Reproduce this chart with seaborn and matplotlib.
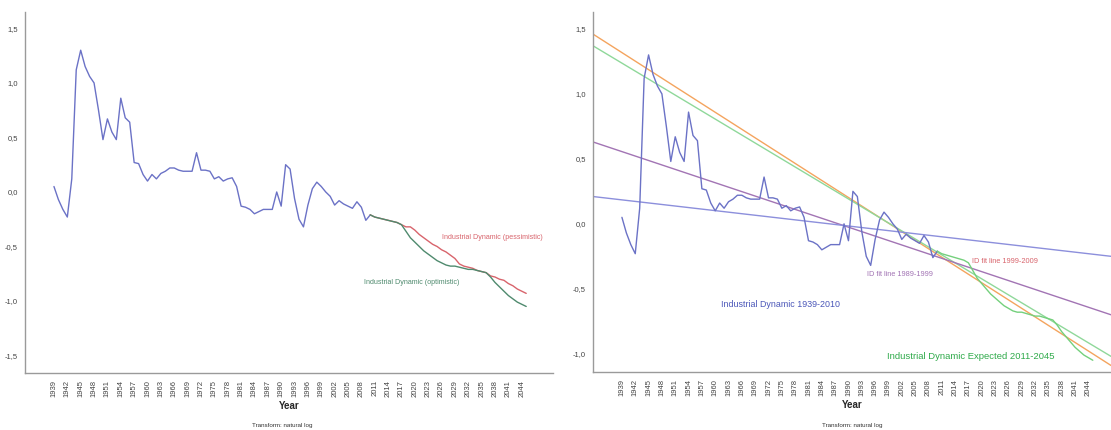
import numpy as np
import pandas as pd
import matplotlib.pyplot as plt
import seaborn as sns

# ---------------------------------------------------------
# data (natural log transform)
# ---------------------------------------------------------
hist_years = list(range(1939, 2011))
hist_values = [
    0.05, -0.07, -0.16, -0.23, 0.12, 1.12, 1.30, 1.15, 1.06, 1.00,   # 1939-1948
    0.75, 0.48, 0.67, 0.55, 0.48, 0.86, 0.68, 0.64, 0.27, 0.26,      # 1949-1958
    0.16, 0.10, 0.16, 0.12, 0.17, 0.19, 0.22, 0.22, 0.20, 0.19,      # 1959-1968
    0.19, 0.19, 0.36, 0.20, 0.20, 0.19, 0.12, 0.14, 0.10, 0.12,      # 1969-1978
    0.13, 0.05, -0.13, -0.14, -0.16, -0.20, -0.18, -0.16, -0.16, -0.16,  # 1979-1988
    0.00, -0.13, 0.25, 0.21, -0.06, -0.25, -0.32, -0.12, 0.03, 0.09,    # 1989-1998
    0.05, 0.00, -0.04, -0.12, -0.08, -0.11, -0.13, -0.15, -0.09, -0.14,  # 1999-2008
    -0.26, -0.21,                                                       # 2009-2010
]

fc_years = list(range(2010, 2046))
pessimistic = [
    -0.21, -0.23, -0.24, -0.25, -0.26, -0.27, -0.28, -0.30, -0.32, -0.32,
    -0.35, -0.39, -0.42, -0.45, -0.48, -0.50, -0.53, -0.55, -0.58, -0.61,
    -0.66, -0.68, -0.69, -0.70, -0.72, -0.73, -0.74, -0.77, -0.78, -0.80,
    -0.81, -0.84, -0.86, -0.89, -0.91, -0.93,
]
optimistic = [
    -0.21, -0.23, -0.24, -0.25, -0.26, -0.27, -0.28, -0.30, -0.36, -0.42,
    -0.46, -0.50, -0.54, -0.57, -0.60, -0.63, -0.65, -0.67, -0.68, -0.68,
    -0.69, -0.70, -0.71, -0.71, -0.72, -0.73, -0.74, -0.78, -0.83, -0.87,
    -0.91, -0.95, -0.98, -1.01, -1.03, -1.05,
]

# straight fit lines on the right panel: value at the left and right axis edge
fit_years = [1932.5, 2049.1]
fit_orange = [1.46, -1.09]
fit_green = [1.37, -1.02]
fit_purple = [0.63, -0.70]
fit_blue = [0.21, -0.25]

tick_years = list(range(1939, 2045, 3))
y_ticks = [-1.5, -1.0, -0.5, 0.0, 0.5, 1.0, 1.5]

# ---------------------------------------------------------
# styling
# ---------------------------------------------------------
sns.set_style("white")
plt.rcParams['font.family'] = ['Liberation Sans', 'DejaVu Sans']

BLUE = '#6b72c6'
RED = '#d8646c'
DGREEN = '#4f8a6e'
LGREEN = '#74d07c'
ORANGE = '#f4a45e'
FGREEN = '#8fd89a'
PURPLE = '#a274b4'
FBLUE = '#8c8fdc'
GREY = '#9a9a9a'

fig = plt.figure(figsize=(11.11, 4.30), dpi=100)
ax1 = fig.add_axes([0.0225, 0.1326, 0.4752, 0.8394])
ax2 = fig.add_axes([0.5338, 0.135, 0.4662, 0.837])


def style_axis(ax, ylim, yticks):
    ax.set_xlim(1932.5, 2051 if ax is ax1 else 2049.1)
    ax.set_ylim(*ylim)
    ax.set_xticks(tick_years)
    ax.set_xticklabels([str(y) for y in tick_years], rotation=90, fontsize=5.5, color='#444444')
    ax.set_yticks(yticks)
    ax.set_yticklabels([f'{v:.1f}'.replace('.', ',') for v in yticks], fontsize=5.5, color='#444444')
    ax.tick_params(axis='both', direction='out', length=3, width=0.8, color='#555555', pad=2)
    for s in ['top', 'right']:
        ax.spines[s].set_visible(False)
    for s in ['left', 'bottom']:
        ax.spines[s].set_color(GREY)
        ax.spines[s].set_linewidth(1.0)
    ax.set_xlabel('Year', fontsize=7, fontweight='bold', labelpad=3)
    ax.set_ylabel('')
    ax.grid(False)


hist = pd.DataFrame({'Year': hist_years, 'Value': hist_values})
fc = pd.DataFrame({'Year': fc_years, 'Pess': pessimistic, 'Opt': optimistic})

# ---- left panel: scenarios ----
sns.lineplot(data=hist, x='Year', y='Value', color=BLUE, linewidth=1.0, ax=ax1)
sns.lineplot(data=fc, x='Year', y='Pess', color=RED, linewidth=1.0, ax=ax1)
sns.lineplot(data=fc, x='Year', y='Opt', color=DGREEN, linewidth=1.0, ax=ax1)
style_axis(ax1, (-1.66, 1.65), y_ticks)
ax1.text(2026.1, -0.42, 'Industrial Dynamic (pessimistic)', color=RED, fontsize=5.1, va='center')
ax1.text(2008.5, -0.83, 'Industrial Dynamic (optimistic)', color=DGREEN, fontsize=5.1, va='center')

# ---- right panel: fit lines ----
for vals, col in [(fit_orange, ORANGE), (fit_green, FGREEN), (fit_purple, PURPLE), (fit_blue, FBLUE)]:
    sns.lineplot(x=fit_years, y=vals, color=col, linewidth=1.0, ax=ax2)
sns.lineplot(data=hist, x='Year', y='Value', color=BLUE, linewidth=1.0, ax=ax2)
sns.lineplot(data=fc, x='Year', y='Opt', color=LGREEN, linewidth=1.0, ax=ax2)
style_axis(ax2, (-1.14, 1.63), y_ticks[1:])
ax2.text(1961.3, -0.62, 'Industrial Dynamic 1939-2010', color='#4a56b8', fontsize=6.4, va='center')
ax2.text(1998.7, -1.02, 'Industrial Dynamic Expected 2011-2045', color='#2faa4a', fontsize=6.8, va='center')
ax2.text(1994.2, -0.39, 'ID fit line 1989-1999', color=PURPLE, fontsize=5.3, va='center')
ax2.text(2017.8, -0.29, 'ID fit line 1999-2009', color=RED, fontsize=5.3, va='center')

# footnotes under each panel
fig.text(0.254, 0.004, 'Transform: natural log', fontsize=4.5, color='#333333', ha='center', va='bottom')
fig.text(0.767, 0.004, 'Transform: natural log', fontsize=4.5, color='#333333', ha='center', va='bottom')

fig.savefig('out.png', dpi=100)
